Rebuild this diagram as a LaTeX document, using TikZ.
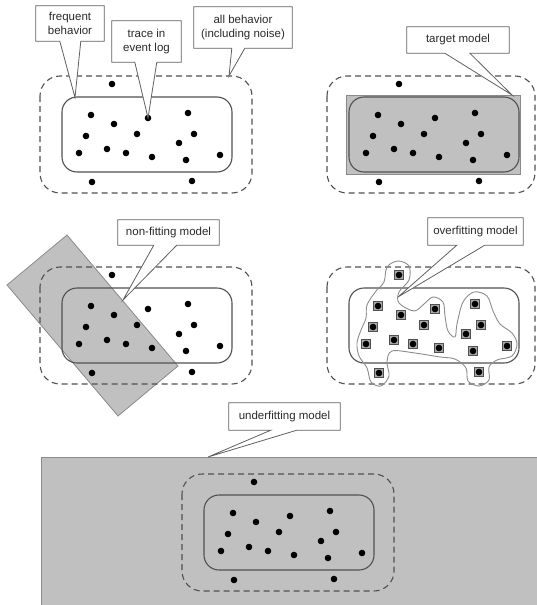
\documentclass[tikz,border=0pt]{standalone}
\usepackage{fontspec}
\setmainfont{Liberation Sans}
\usetikzlibrary{calc}
\pgfdeclarelayer{front}
\pgfsetlayers{main,front}
\definecolor{lgrey}{HTML}{C0C0C0}
\definecolor{dline}{HTML}{505050}
\definecolor{mline}{HTML}{8A8A8A}
\definecolor{sqgrey}{HTML}{A8A8A8}
\definecolor{wave}{HTML}{8C8C8C}
\definecolor{cline}{HTML}{606060}
\definecolor{txt}{HTML}{2A2A2A}
\tikzset{
  allbeh/.style={draw=dline, line width=1.1pt, dash pattern=on 6pt off 4pt, rounded corners=20pt},
  freqbeh/.style={draw=dline, line width=1.1pt, rounded corners=15pt},
  modelfill/.style={fill=lgrey, draw=mline, line width=0.8pt},
  ctext/.style={inner sep=0pt, align=center, text=txt, font=\fontsize{11.5}{14.5}\selectfont},
  cbox/.style={fill=white, draw=cline, line width=0.8pt, line join=miter},
  trace/.style={fill=black},
  tsq/.style={fill=sqgrey, draw=dline, line width=0.6pt},
  wavy/.style={draw=wave, line width=0.9pt}
}
\newcommand\mydots{\foreach \p in {(112,84),(91,115),(114,124),(148,118),(188,113),(86,136),(137,134),(194,134),(179,143),(79,153),(107,149),(126,153),(152,157),(186,160),(220,155),(92,182),(192,181)} {\fill[trace] \p circle (3.3pt);}}
\newcommand\mysquares{\foreach \p in {(112,84),(91,115),(114,124),(148,118),(188,113),(86,136),(137,134),(194,134),(179,143),(79,153),(107,149),(126,153),(152,157),(186,160),(220,155),(92,182),(192,181)} {\path[tsq] \p ++(-4.5,-4.5) rectangle ++(9,9);}}
\newcommand\mycallout[8]{%
  \begin{pgfonlayer}{front}
    \node[ctext, minimum width=#3pt, minimum height=#4pt] (#1) at #2 {#5};
  \end{pgfonlayer}
  \path[cbox] (#1.south west) -- ($(#1.south west)+(#6,0)$) -- #8 -- ($(#1.south west)+(#7,0)$) -- (#1.south east) -- (#1.north east) -- (#1.north west) -- cycle;
}
\begin{document}
\begin{tikzpicture}[x=1pt, y=-1pt]
\useasboundingbox (0,0) rectangle (537,605);

% ---- panel 1: event log
\path[allbeh] (40,76) rectangle (252,193);
\path[freqbeh] (62,97) rectangle (232,172);
\mydots
\coordinate (fbtip) at (75,97.5);
\coordinate (trtip) at (148,118);
\coordinate (abtip) at (229,76);

% ---- panel 2: target model
\path[allbeh] (327,76) rectangle (535,193);
\path[modelfill] (346,95) rectangle (520,174);
\path[freqbeh] (349,97) rectangle (519,172);
\begin{scope}[shift={(287,0)}]\mydots\end{scope}
\coordinate (tmtip) at (512,95);

% ---- panel 3: non-fitting model
\path[modelfill] (7,285) -- (67,235) -- (178,366) -- (118,416) -- cycle;
\path[allbeh] (40,267) rectangle (252,384);
\path[freqbeh] (62,288) rectangle (232,363);
\begin{scope}[shift={(0,191)}]\mydots\end{scope}
\coordinate (nftip) at (123,300);

% ---- panel 4: overfitting model
\path[allbeh] (327,267) rectangle (535,384);
\path[freqbeh] (349,288) rectangle (519,363);
\path[wavy] plot[smooth cycle, tension=0.55] coordinates {
  (384,282) (387,267) (398,261) (409,266) (409,280) (399,292) (399,303)
  (414,311) (424,304) (433,297) (443,302) (445,316) (448,331) (455,337)
  (457,324) (463,302) (474,292) (487,296) (493,311) (500,324) (512,333)
  (517,344) (512,356) (497,360) (489,367) (489,380) (479,386) (468,381)
  (466,368) (455,359) (440,357) (415,353) (392,351) (387,362) (389,376)
  (381,386) (371,382) (367,368) (359,356) (357,343) (361,330) (366,318)
  (367,305) (376,291)};
\begin{scope}[shift={(287,191)}]\mysquares\mydots\end{scope}
\coordinate (oftip) at (398,297);

% ---- panel 5: underfitting model
\fill[lgrey] (41,457) rectangle (537,605);
\draw[mline, line width=0.8pt] (41,605) -- (41,457) -- (537,457);
\path[allbeh] (182,474) rectangle (394,591);
\path[freqbeh] (204,495) rectangle (374,570);
\begin{scope}[shift={(142,398)}]\mydots\end{scope}
\coordinate (uftip) at (208,457);

% ---- callouts
\mycallout{fb}{(70,23.5)}{68}{35}{frequent\\behavior}{24}{45}{(fbtip)}
\mycallout{tr}{(146.5,41.5)}{69}{41}{trace in\\event log}{23}{45}{(trtip)}
\mycallout{ab}{(243,27.5)}{98}{41}{all behavior\\(including noise)}{38}{51}{(abtip)}
\mycallout{tm}{(458,40)}{102}{26}{target model}{38}{63}{(tmtip)}
\mycallout{nf}{(168.5,232.5)}{101}{25}{non-fitting model}{36}{59}{(nftip)}
\mycallout{of}{(475.5,231.5)}{95}{27}{overfitting model}{29}{57}{(oftip)}
\mycallout{uf}{(284.5,416.5)}{111}{27}{underfitting model}{42}{68}{(uftip)}
\end{tikzpicture}
\end{document}
